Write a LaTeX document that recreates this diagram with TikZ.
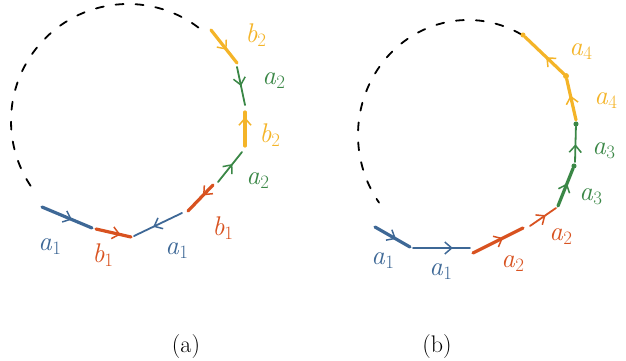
\documentclass[tikz,border=0pt]{standalone}
\usetikzlibrary{arrows.meta,decorations.markings}
\definecolor{cyel}{RGB}{244,180,40}
\definecolor{cgrn}{RGB}{58,135,70}
\definecolor{corg}{RGB}{216,82,32}
\definecolor{cblu}{RGB}{62,104,150}
\newcommand{\lbl}[2]{\textit{#1}\textsubscript{#2}}
\begin{document}
\begin{tikzpicture}[x=1pt,y=-1pt,line cap=round,
  marr/.style={postaction={decorate},decoration={markings,mark=at position #1 with {\arrow[line width=1.5pt]{Straight Barb[length=7pt,width=12pt]}}}},
  thk/.style={line width=3.2pt},
  thn/.style={line width=1.8pt},
  lab/.style={font=\fontsize{27}{29}\selectfont, inner sep=0pt},
  captxt/.style={font=\fontsize{24}{28}\selectfont, inner sep=0pt},
  dashc/.style={black, line width=1.8pt, dash pattern=on 8pt off 12pt},
  opendot/.style={circle, draw, line width=1pt, fill=white, inner sep=0pt, minimum size=4pt},
  fulldot/.style={circle, fill, inner sep=0pt, minimum size=6pt}]
\useasboundingbox (0,0) rectangle (626,361);

% ---------------- panel (a) ----------------
\draw[dashc] (128,121) ++(307:117) arc[start angle=307,end angle=145,radius=117];

\coordinate (a1) at (42,207);
\coordinate (a2) at (92,228);
\coordinate (a3) at (96,229);
\coordinate (a4) at (131,237);
\coordinate (a5) at (134,236);
\coordinate (a6) at (182,213);
\coordinate (a7) at (188,211);
\coordinate (a8) at (213,185);
\coordinate (a9) at (218,182);
\coordinate (a10) at (242,152);
\coordinate (a11) at (245,146);
\coordinate (a12) at (245,112);
\coordinate (a13) at (245,105);
\coordinate (a14) at (237,67);
\coordinate (a15) at (237,63);
\coordinate (a16) at (211,30);

\draw[cblu,thk,marr=0.6] (a1) -- (a2);
\draw[corg,thk,marr=0.7] (a3) -- (a4);
\draw[cblu,thn,marr=0.6] (a6) -- (a5);
\draw[corg,thk,marr=0.4] (a8) -- (a7);
\draw[cgrn,thn,marr=0.6] (a9) -- (a10);
\draw[cyel,thk,marr=0.85] (a11) -- (a12);
\draw[cgrn,thn,marr=0.5] (a14) -- (a13);
\draw[cyel,thk,marr=0.6] (a16) -- (a15);

\node[lab,cblu] (la1) at (50,247) {\lbl{a}{1}};
\node[lab,corg] (la2) at (103,255) {\lbl{b}{1}};
\node[lab,cblu] (la3) at (177,251) {\lbl{a}{1}};
\node[lab,corg] (la4) at (223,228) {\lbl{b}{1}};
\node[lab,cgrn] (la5) at (258,181) {\lbl{a}{2}};
\node[lab,cyel] (la6) at (270,135) {\lbl{b}{2}};
\node[lab,cgrn] (la7) at (274,81) {\lbl{a}{2}};
\node[lab,cyel] (la8) at (256,35) {\lbl{b}{2}};

% ---------------- panel (b) ----------------
\draw[dashc] (468,135) ++(299:110 and 115) arc[start angle=299,end angle=144,x radius=110,y radius=115];

\coordinate (b1) at (375,227);
\coordinate (b2) at (410,247);
\coordinate (b3) at (413,248);
\coordinate (b4) at (470,248);
\coordinate (b5) at (473,253);
\coordinate (b6) at (523,228);
\coordinate (b7) at (530,226);
\coordinate (b8) at (556,208);
\coordinate (b9) at (558,206);
\node[opendot,cgrn] (b10) at (574,166) {};
\coordinate (b11) at (575,162);
\node[opendot,cgrn] (b12) at (576,124) {};
\coordinate (b13) at (576,120);
\node[fulldot,cyel] (b14) at (566,76) {};
\node[opendot,cyel] (b15) at (523,35) {};

\draw[cblu,thk,marr=0.6] (b1) -- (b2);
\draw[cblu,thn,marr=0.7] (b3) -- (b4);
\draw[corg,thk,marr=0.6] (b5) -- (b6);
\draw[corg,thn,marr=0.6] (b7) -- (b8);
\draw[cgrn,thk,marr=0.6] (b9) -- (b10);
\draw[cgrn,thn,marr=0.5] (b11) -- (b12);
\draw[cyel,thk,marr=0.6] (b13) -- (b14);
\draw[cyel,thk,marr=0.45] (b14) -- (b15);

\node[lab,cblu] (lb1) at (383,261) {\lbl{a}{1}};
\node[lab,cblu] (lb2) at (441,272) {\lbl{a}{1}};
\node[lab,corg] (lb3) at (513,264) {\lbl{a}{2}};
\node[lab,corg] (lb4) at (561,237) {\lbl{a}{2}};
\node[lab,cgrn] (lb5) at (591,197) {\lbl{a}{3}};
\node[lab,cgrn] (lb6) at (604,151) {\lbl{a}{3}};
\node[lab,cyel] (lb7) at (606,101) {\lbl{a}{4}};
\node[lab,cyel] (lb8) at (581,52) {\lbl{a}{4}};

% captions
\node[captxt] (capa) at (186,347) {(a)};
\node[captxt] (capb) at (437,347) {(b)};
\end{tikzpicture}
\end{document}
